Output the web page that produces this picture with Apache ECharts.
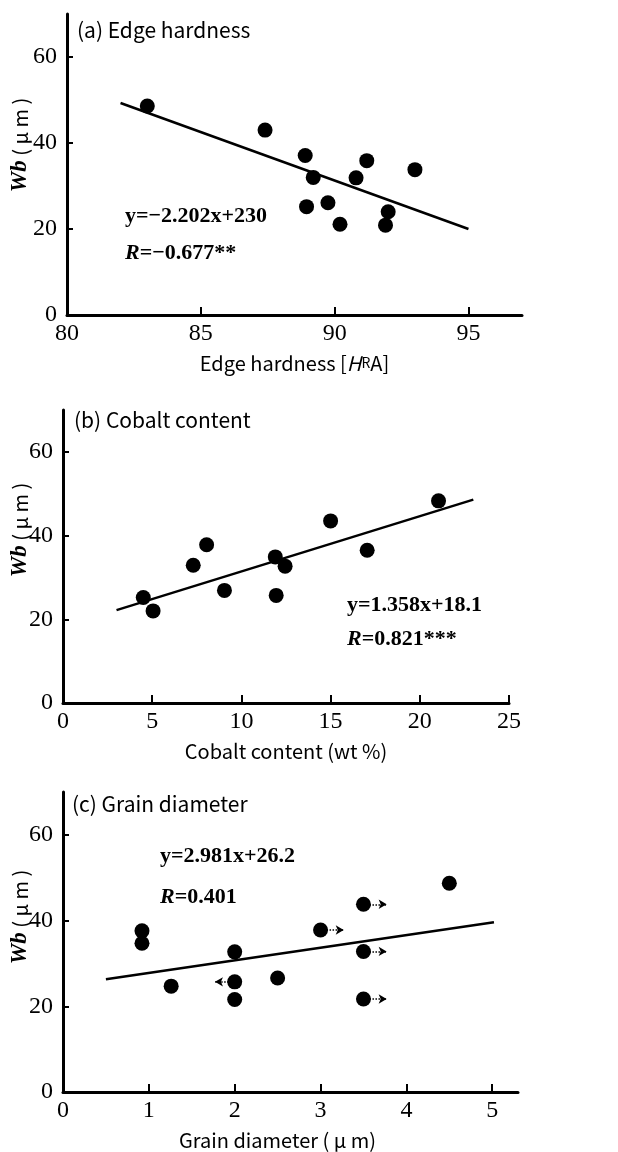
<!DOCTYPE html>
<html>
<head>
<meta charset="utf-8">
<script src="https://cdn.jsdelivr.net/npm/echarts@6/dist/echarts.min.js"></script>
<style>html,body{margin:0;padding:0;background:#fff;}#c{width:618px;height:1152px;}</style>
</head>
<body>
<div id="c"></div>
<script>
// ---- data ----
const edgeX = [83.0, 87.4, 88.9, 89.2, 88.95, 89.75, 90.2, 90.8, 91.2, 92.0, 91.9, 93.0];
const edgeY = [48.6, 43.0, 37.1, 32.0, 25.2, 26.1, 21.1, 31.9, 35.9, 24.0, 20.9, 33.8];
const fitEdgeX = [82, 95];
const fitEdgeY = [49.3, 20.0];

const cobaltX = [4.5, 5.05, 7.3, 8.05, 9.05, 11.9, 12.45, 11.95, 15.0, 17.05, 21.05];
const cobaltY = [25.2, 22.0, 32.9, 37.8, 26.9, 34.9, 32.7, 25.7, 43.5, 36.5, 48.3];
const fitCobaltX = [3, 23];
const fitCobaltY = [22.2, 48.6];

const grainX = [0.92, 0.92, 1.26, 2.0, 2.0, 2.0, 2.5, 3.0, 3.5, 3.5, 3.5, 4.5];
const grainY = [37.6, 34.7, 24.7, 32.7, 25.7, 21.6, 26.6, 37.8, 43.8, 32.8, 21.7, 48.7];
const fitGrainX = [0.5, 5.02];
const fitGrainY = [26.3, 39.6];
// arrows: start x, y, end x
const arrowStartX = [3.0, 3.5, 3.5, 3.5, 2.0];
const arrowY      = [37.8, 43.8, 32.8, 21.7, 25.7];
const arrowEndX   = [3.27, 3.77, 3.77, 3.77, 1.77];

const yTicks = [0, 20, 40, 60];
const edgeTicks = [80, 85, 90, 95];
const cobaltTicks = [0, 5, 10, 15, 20, 25];
const grainTicks = [0, 1, 2, 3, 4, 5];

const titles = ['(a) Edge hardness', '(b) Cobalt content', '(c) Grain diameter'];
const eqs = ['y=−2.202x+230', 'y=1.358x+18.1', 'y=2.981x+26.2'];
const rs = ['=−0.677**', '=0.821***', '=0.401'];

// ---- helpers ----
const zip = (xs, ys) => xs.map((x, i) => [x, ys[i]]);
const SERIF = '"Liberation Serif", "DejaVu Serif", serif';
const SANS = '"Noto Sans CJK JP", "Noto Sans", sans-serif';

function xAxisOf(gi, min, max, ticks, name, pad) {
  return {
    gridIndex: gi, type: 'value', min: min, max: max,
    name: name, nameLocation: 'middle', nameGap: 38,
    nameTextStyle: {fontFamily: SANS, fontSize: 20, color: '#000', padding: pad || 0,
      rich: {i: {fontStyle: 'italic', fontFamily: SANS, fontSize: 20}, s: {fontFamily: SANS, fontSize: 14}}},
    axisLine: {onZero: false, lineStyle: {color: '#000', width: 3}},
    axisTick: {inside: true, length: 8, lineStyle: {width: 2, color: '#000'}, customValues: ticks},
    axisLabel: {customValues: ticks, color: '#000', fontFamily: SERIF, fontSize: 24, margin: 7},
    splitLine: {show: false}
  };
}
function yAxisOf(gi) {
  return {
    gridIndex: gi, type: 'value', min: 0, max: 70,
    axisLine: {onZero: false, lineStyle: {color: '#000', width: 3}},
    axisTick: {inside: true, length: 6, lineStyle: {width: 2, color: '#000'}, customValues: yTicks},
    axisLabel: {customValues: yTicks, color: '#000', fontFamily: SERIF, fontSize: 24, margin: 10},
    splitLine: {show: false}
  };
}
function scatterOf(gi, data) {
  return {type: 'scatter', xAxisIndex: gi, yAxisIndex: gi, data: data, symbolSize: 15,
    itemStyle: {color: '#000', opacity: 1}, emphasis: {disabled: true}, z: 3};
}
function fitOf(gi, data) {
  return {type: 'line', xAxisIndex: gi, yAxisIndex: gi, data: data, symbol: 'none',
    lineStyle: {color: '#000', width: 2.5}, z: 2, silent: true};
}
function eqText(left, top, eq, r) {
  return [
    {type: 'text', left: left, top: top, style: {text: eq, fill: '#000', font: 'bold 22px ' + SERIF}},
    {type: 'text', left: left, top: top + (r.top), style: {
      text: '{i|R}' + r.text, fill: '#000', font: 'bold 22px ' + SERIF,
      rich: {i: {fontStyle: 'italic', fontWeight: 'bold', fontFamily: SERIF, fontSize: 22}}}}
  ];
}
function yName(x, y) {
  return {type: 'text', x: x, y: y, rotation: Math.PI / 2, style: {
    text: '{i|Wb}{n| ( μ m )}', align: 'center', verticalAlign: 'middle', fill: '#000',
    rich: {i: {fontStyle: 'italic', fontWeight: 'bold', fontFamily: SERIF, fontSize: 23},
           n: {fontFamily: SANS, fontSize: 20}}}};
}

const arrowLines = arrowStartX.map((x, i) => [{coord: [x, arrowY[i]]}, {coord: [arrowEndX[i], arrowY[i]]}]);
const titleStyle = {fontFamily: SANS, fontSize: 21, fontWeight: 'normal', color: '#000'};

const option = {
  backgroundColor: '#fff',
  animation: false,
  title: [
    {text: titles[0], left: 77, top: 20, padding: 0, textStyle: titleStyle},
    {text: titles[1], left: 74, top: 410, padding: 0, textStyle: titleStyle},
    {text: titles[2], left: 72, top: 794, padding: 0, textStyle: titleStyle}
  ],
  grid: [
    {left: 67, top: 14, width: 455, height: 301},
    {left: 63, top: 410, width: 446, height: 293},
    {left: 63, top: 792, width: 455, height: 300}
  ],
  xAxis: [
    xAxisOf(0, 80, 97, edgeTicks, 'Edge hardness [{i|H}{s|R}A]'),
    xAxisOf(1, 0, 25, cobaltTicks, 'Cobalt content (wt %)'),
    xAxisOf(2, 0, 5.3, grainTicks, 'Grain diameter ( μ m)', [0, 26, 0, 0])
  ],
  yAxis: [yAxisOf(0), yAxisOf(1), yAxisOf(2)],
  series: [
    fitOf(0, zip(fitEdgeX, fitEdgeY)),
    scatterOf(0, zip(edgeX, edgeY)),
    fitOf(1, zip(fitCobaltX, fitCobaltY)),
    scatterOf(1, zip(cobaltX, cobaltY)),
    fitOf(2, zip(fitGrainX, fitGrainY)),
    Object.assign(scatterOf(2, zip(grainX, grainY)), {
      markLine: {silent: true, symbol: ['none', 'arrow'], symbolSize: [7, 8],
        label: {show: false},
        lineStyle: {color: '#000', width: 1.5, type: 'dotted'},
        data: arrowLines}
    })
  ],
  graphic: [
    yName(20, 145), yName(20, 530), yName(20, 917),
    ...eqText(125, 205, eqs[0], {text: rs[0], top: 37}),
    ...eqText(347, 594, eqs[1], {text: rs[1], top: 34}),
    ...eqText(160, 845, eqs[2], {text: rs[2], top: 41})
  ]
};

const chart = echarts.init(document.getElementById('c'), null, {renderer: 'canvas'});
chart.setOption(option);
</script>
</body>
</html>
